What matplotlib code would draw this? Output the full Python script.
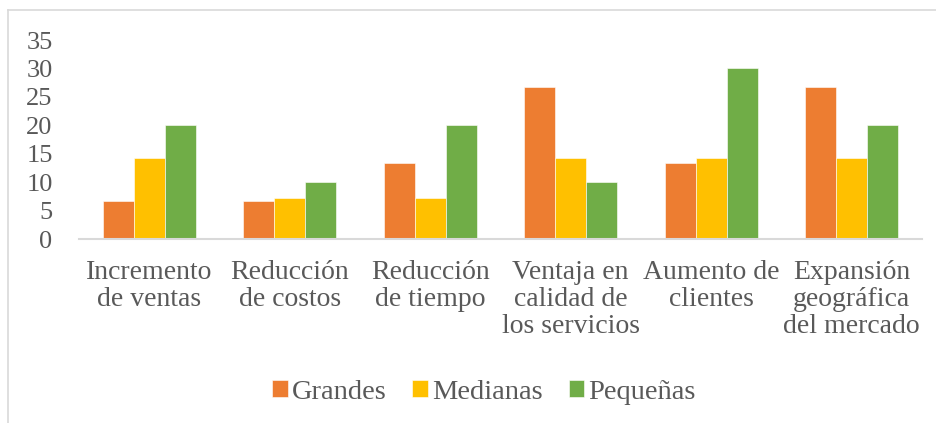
import matplotlib
matplotlib.use("Agg")
import matplotlib.pyplot as plt
from matplotlib.lines import Line2D
import numpy as np

categories = ["Incremento\nde ventas", "Reducción\nde costos", "Reducción\nde tiempo",
              "Ventaja en\ncalidad de\nlos servicios", "Aumento de\nclientes",
              "Expansión\ngeográfica\ndel mercado"]
series_names = ["Grandes", "Medianas", "Pequeñas"]
grandes = [6.67, 6.67, 13.33, 26.67, 13.33, 26.67]
medianas = [14.29, 7.14, 7.14, 14.29, 14.29, 14.29]
pequenas = [20, 10, 20, 10, 30, 20]
yticks = [0, 5, 10, 15, 20, 25, 30, 35]

colors = ["#ED7D31", "#FFC000", "#70AD47"]
text_color = "#595959"
line_color = "#D9D9D9"

plt.rcParams['font.family'] = ['Liberation Serif', 'DejaVu Serif']

fig = plt.figure(figsize=(9.37, 4.23), dpi=100)
ax = fig.add_axes([79/937, 1-239/423, (922-79)/937, (239-40)/423])

x = np.arange(len(categories))
w = 0.22
for i, (vals, name) in enumerate(zip([grandes, medianas, pequenas], series_names)):
    ax.bar(x + (i - 1) * w, vals, width=w, color=colors[i], label=name,
           edgecolor="white", linewidth=0.4)

ax.set_xlim(-0.5, len(categories) - 0.5)
ax.set_ylim(0, 35)
ax.set_yticks(yticks)
ax.set_yticklabels([str(t) for t in yticks], fontsize=19, color=text_color)
ax.set_xticks(x)
ax.set_xticklabels(categories, fontsize=20, color=text_color, linespacing=1.12)
ax.tick_params(axis='both', length=0)
ax.tick_params(axis='x', pad=15)
ax.tick_params(axis='y', pad=19)
for s in ["top", "right", "left"]:
    ax.spines[s].set_visible(False)
ax.spines["bottom"].set_color(line_color)
ax.spines["bottom"].set_linewidth(1.5)

leg = fig.legend(loc="center", bbox_to_anchor=(484/937, 1-392/423), ncol=3,
                 frameon=False, fontsize=20.5, handlelength=0.55, handleheight=0.55,
                 handletextpad=0.15, columnspacing=0.9, labelcolor=text_color)

# outer chart frame (continues beyond the image to the right and bottom)
fig.add_artist(Line2D([8/937, 8/937], [0, 1-10/423], transform=fig.transFigure,
                      color=line_color, linewidth=1.2))
fig.add_artist(Line2D([8/937, 1], [1-10/423, 1-10/423], transform=fig.transFigure,
                      color=line_color, linewidth=1.2))

fig.savefig("out.png", dpi=100, facecolor="white")
